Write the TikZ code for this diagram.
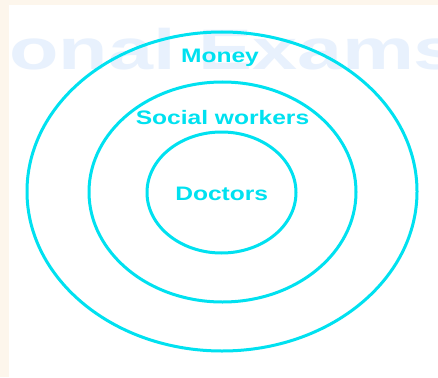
\documentclass[tikz,border=0pt]{standalone}
\usepackage{fontspec}
\setmainfont{Liberation Sans}
\usetikzlibrary{shapes.geometric}
\definecolor{cy}{RGB}{0,225,240}
\definecolor{cream}{RGB}{253,246,236}
\definecolor{wm}{RGB}{232,241,253}
\newcommand\hstretch[2]{\scalebox{#1}[1]{#2}}
\begin{document}
\begin{tikzpicture}[x=1pt,y=-1pt,
  ring/.style={draw=cy,line width=3pt,ellipse,inner sep=0pt},
  lbl/.style={text=cy,font=\fontsize{19.5}{20}\selectfont\bfseries,inner sep=0pt,anchor=base}]
\useasboundingbox (0,0) rectangle (438,377);
\fill[cream] (0,0) rectangle (438,377);
\fill[white] (9,5) rectangle (438,377);
\begin{scope}
\clip (9,5) rectangle (438,377);
\node[anchor=base west, inner sep=0pt, text=wm, font=\fontsize{57}{60}\selectfont\bfseries] (mark) at (9,70) {\hstretch{1.42}{onal Exams}};
\end{scope}
\node[ring, minimum width=390pt, minimum height=319pt] (outer) at (222,191.5) {};
\node[ring, minimum width=267pt, minimum height=220pt] (middle) at (222.5,192) {};
\node[ring, minimum width=149pt, minimum height=121pt] (inner) at (221.5,192.5) {};
\node[lbl] (money) at (220,62.7) {\hstretch{1.26}{Money}};
\node[lbl] (social) at (222.5,124.3) {\hstretch{1.26}{Social workers}};
\node[lbl] (doctors) at (221.7,200.7) {\hstretch{1.26}{Doctors}};
\end{tikzpicture}
\end{document}
